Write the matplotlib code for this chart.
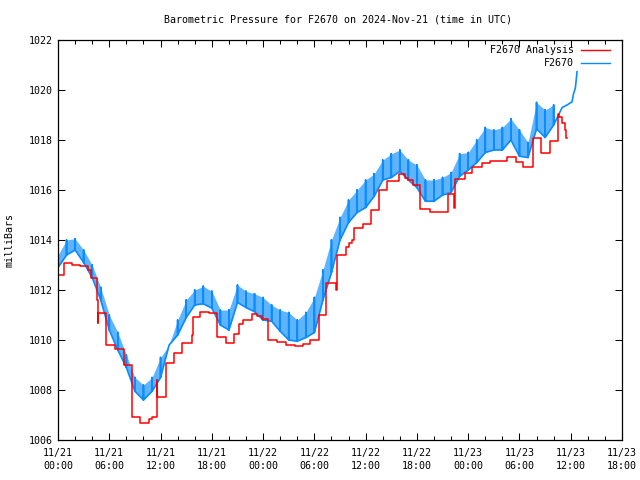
import matplotlib
matplotlib.use('Agg')
import matplotlib.pyplot as plt
from matplotlib.lines import Line2D
from matplotlib.ticker import MultipleLocator

plt.rcParams['font.family'] = ['DejaVu Sans Mono']

# ---- data (hours since 2024-11-21 00:00 UTC, millibars) ----
red_hours = [0.0, 0.70, 1.60, 2.57, 3.48, 3.86, 4.60, 4.63, 4.72, 5.62, 6.67, 7.76,
             8.62, 9.60, 10.65, 10.97, 11.55, 11.61, 12.60, 13.58, 14.48, 15.65,
             15.76, 16.62, 17.67, 18.57, 19.66, 20.60, 21.22, 21.69, 22.67, 23.25,
             23.84, 24.54, 25.66, 26.65, 27.74, 28.67, 29.49, 30.58, 31.42, 32.53,
             32.65, 33.70, 34.09, 34.37, 34.67, 35.66, 36.59, 37.60, 38.54, 39.94,
             40.61, 40.99, 41.58, 42.36, 43.53, 45.61, 46.34, 46.46, 47.63, 48.45,
             49.62, 50.56, 52.55, 53.60, 54.42, 55.59, 56.52, 57.58, 58.51, 58.63,
             58.98, 59.33, 59.45, 59.57]
red_mb = [1012.6, 1013.07, 1013.0, 1012.96, 1012.8, 1012.48, 1011.6, 1010.68, 1011.08,
          1009.8, 1009.63, 1009.0, 1006.93, 1006.68, 1006.84, 1006.93, 1008.4, 1007.73,
          1009.09, 1009.49, 1009.87, 1010.2, 1010.93, 1011.13, 1011.1, 1010.13, 1009.89,
          1010.23, 1010.63, 1010.8, 1011.03, 1010.96, 1010.83, 1009.99, 1009.92, 1009.79,
          1009.78, 1009.84, 1010.0, 1011.0, 1012.27, 1012.0, 1013.4, 1013.73, 1013.87,
          1014.0, 1014.47, 1014.63, 1015.2, 1016.0, 1016.37, 1016.63, 1016.47, 1016.4,
          1016.2, 1015.24, 1015.13, 1015.85, 1015.3, 1016.44, 1016.68, 1016.92, 1017.08,
          1017.16, 1017.32, 1017.12, 1016.92, 1018.08, 1017.48, 1017.96, 1019.04, 1018.92,
          1018.68, 1018.4, 1018.08, 1018.08]

blue_hours = list(range(0, 59))
blue_low = [1012.9, 1013.4, 1013.6, 1013.1, 1012.5, 1011.6, 1010.4, 1009.6, 1008.9,
            1007.95, 1007.6, 1007.95, 1008.5, 1009.8, 1010.2, 1010.9, 1011.4, 1011.45,
            1011.27, 1010.6, 1010.4, 1011.5, 1011.3, 1011.13, 1010.8, 1010.75, 1010.35,
            1010.0, 1009.95, 1010.1, 1010.3, 1011.6, 1012.7, 1014.0, 1014.7, 1015.1,
            1015.3, 1015.75, 1016.4, 1016.5, 1016.75, 1016.4, 1016.1, 1015.55, 1015.55,
            1015.8, 1015.9, 1016.55, 1016.8, 1017.1, 1017.5, 1017.6, 1017.6, 1018.0,
            1017.35, 1017.3, 1018.45, 1018.1, 1018.6]
blue_high = [1013.4, 1014.0, 1014.05, 1013.6, 1013.0, 1012.1, 1011.0, 1010.3, 1009.4,
             1008.5, 1008.2, 1008.5, 1009.3, 1009.8, 1010.8, 1011.6, 1012.0, 1012.15,
             1011.95, 1011.2, 1011.2, 1012.2, 1011.95, 1011.85, 1011.7, 1011.4, 1011.2,
             1011.1, 1010.8, 1011.1, 1011.7, 1012.8, 1014.0, 1014.9, 1015.6, 1016.0,
             1016.4, 1016.65, 1017.2, 1017.45, 1017.6, 1017.2, 1017.0, 1016.4, 1016.4,
             1016.5, 1016.7, 1017.45, 1017.5, 1018.0, 1018.5, 1018.4, 1018.5, 1018.85,
             1018.4, 1017.9, 1019.5, 1019.2, 1019.4]
tail_hours = [59.0, 59.57, 60.15, 60.34, 60.54, 60.74]
tail_mb = [1019.3, 1019.4, 1019.53, 1019.87, 1020.07, 1020.73]

x_ticks = [0, 6, 12, 18, 24, 30, 36, 42, 48, 54, 60, 66]
x_ticklabels = ['11/21\n00:00', '11/21\n06:00', '11/21\n12:00', '11/21\n18:00',
                '11/22\n00:00', '11/22\n06:00', '11/22\n12:00', '11/22\n18:00',
                '11/23\n00:00', '11/23\n06:00', '11/23\n12:00', '11/23\n18:00']
y_ticks = [1006, 1008, 1010, 1012, 1014, 1016, 1018, 1020, 1022]

RED = '#ff0000'
BLUE = '#0a8cff'
FS = 7.2

fig = plt.figure(figsize=(6.4, 4.8), dpi=100)
ax = fig.add_axes([58 / 640, 40 / 480, 564 / 640, 400 / 480])

# blue series: baseline with spikes
bx, by = [], []
for t, lo, hi in zip(blue_hours, blue_low, blue_high):
    bx += [t, t, t]
    by += [lo, hi, lo]
bx += tail_hours
by += tail_mb
ax.fill_between(blue_hours, blue_low, blue_high, color=BLUE, alpha=0.65, lw=0)
ax.plot(bx, by, color=BLUE, lw=1.2)

ax.step(red_hours, red_mb, where='post', color=RED, lw=1.1)

ax.set_xlim(0, 66)
ax.set_ylim(1006, 1022)
ax.set_xticks(x_ticks)
ax.set_xticklabels(x_ticklabels, linespacing=1.3)
ax.xaxis.set_minor_locator(MultipleLocator(2))
ax.set_yticks(y_ticks)
ax.set_yticklabels([str(v) for v in y_ticks])
ax.tick_params(which='both', direction='in', top=True, right=True, labelsize=FS,
               width=0.75, colors='black')
ax.tick_params(which='major', length=5)
ax.tick_params(which='minor', length=3)
ax.tick_params(axis='x', pad=6)
ax.tick_params(axis='y', pad=4)
for s in ax.spines.values():
    s.set_linewidth(0.9)

fig.text(338 / 640, 1 - 20 / 480, 'Barometric Pressure for F2670 on 2024-Nov-21 (time in UTC)',
         ha='center', va='center', fontsize=FS)
fig.text(10 / 640, 1 - 240 / 480, 'milliBars', rotation=90, ha='center', va='center',
         fontsize=FS)

# legend
fig.text(574 / 640, 1 - 50 / 480, 'F2670 Analysis', ha='right', va='center', fontsize=FS)
fig.text(574 / 640, 1 - 63 / 480, 'F2670', ha='right', va='center', fontsize=FS)
fig.add_artist(Line2D([581 / 640, 610 / 640], [1 - 50 / 480, 1 - 50 / 480], color=RED, lw=1.0))
fig.add_artist(Line2D([581 / 640, 610 / 640], [1 - 63 / 480, 1 - 63 / 480], color=BLUE, lw=1.0))

fig.savefig('out.png', dpi=100)
